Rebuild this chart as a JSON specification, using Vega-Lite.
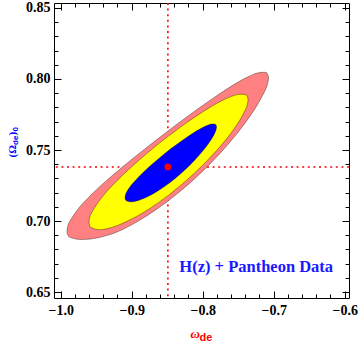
{
  "$schema": "https://vega.github.io/schema/vega-lite/v6.json",
  "width": 295,
  "height": 295,
  "autosize": {"type": "none"},
  "padding": {"left": 54, "top": 3, "right": 11, "bottom": 44},
  "background": "white",
  "config": {
    "view": {"stroke": "black", "strokeWidth": 1},
    "axis": {
      "grid": false,
      "domain": false,
      "tickColor": "black",
      "tickWidth": 1,
      "labelFont": "Liberation Serif",
      "labelFontSize": 14,
      "labelFontWeight": "bold",
      "labelColor": "black",
      "labelFlush": false,
      "labelOverlap": false,
      "titleFont": "Liberation Serif",
      "titleFontWeight": "bold"
    }
  },
  "datasets": {
    "best": [{"w": -0.849, "om": 0.738}],
    "note": [{"label": "H(z) + Pantheon Data", "x": -0.7246, "y": 0.6643}],
    "pink": [
      {"i": 0, "x": -0.7073, "y": 0.8007}, {"i": 1, "x": -0.7085, "y": 0.8033}, {"i": 2, "x": -0.7121, "y": 0.8047},
      {"i": 3, "x": -0.7263, "y": 0.8037}, {"i": 4, "x": -0.7488, "y": 0.7982}, {"i": 5, "x": -0.7782, "y": 0.7889},
      {"i": 6, "x": -0.8124, "y": 0.7769}, {"i": 7, "x": -0.8492, "y": 0.7632}, {"i": 8, "x": -0.8859, "y": 0.7490},
      {"i": 9, "x": -0.9201, "y": 0.7351}, {"i": 10, "x": -0.9495, "y": 0.7221}, {"i": 11, "x": -0.9721, "y": 0.7105},
      {"i": 12, "x": -0.9863, "y": 0.7006}, {"i": 13, "x": -0.9899, "y": 0.6965}, {"i": 14, "x": -0.9911, "y": 0.6930},
      {"i": 15, "x": -0.9899, "y": 0.6901}, {"i": 16, "x": -0.9863, "y": 0.6884}, {"i": 17, "x": -0.9721, "y": 0.6870},
      {"i": 18, "x": -0.9495, "y": 0.6880}, {"i": 19, "x": -0.9201, "y": 0.6924}, {"i": 20, "x": -0.8859, "y": 0.7014},
      {"i": 21, "x": -0.8492, "y": 0.7140}, {"i": 22, "x": -0.8124, "y": 0.7293}, {"i": 23, "x": -0.7782, "y": 0.7462},
      {"i": 24, "x": -0.7488, "y": 0.7634}, {"i": 25, "x": -0.7263, "y": 0.7791}, {"i": 26, "x": -0.7121, "y": 0.7919},
      {"i": 27, "x": -0.7085, "y": 0.7969}
    ],
    "yellow": [
      {"i": 0, "x": -0.7361, "y": 0.7852}, {"i": 1, "x": -0.7371, "y": 0.7875}, {"i": 2, "x": -0.7400, "y": 0.7889},
      {"i": 3, "x": -0.7511, "y": 0.7890}, {"i": 4, "x": -0.7689, "y": 0.7857}, {"i": 5, "x": -0.7921, "y": 0.7793},
      {"i": 6, "x": -0.8191, "y": 0.7704}, {"i": 7, "x": -0.8481, "y": 0.7598}, {"i": 8, "x": -0.8771, "y": 0.7482},
      {"i": 9, "x": -0.9041, "y": 0.7363}, {"i": 10, "x": -0.9273, "y": 0.7250}, {"i": 11, "x": -0.9451, "y": 0.7146},
      {"i": 12, "x": -0.9563, "y": 0.7059}, {"i": 13, "x": -0.9591, "y": 0.7023}, {"i": 14, "x": -0.9601, "y": 0.6993},
      {"i": 15, "x": -0.9591, "y": 0.6969}, {"i": 16, "x": -0.9563, "y": 0.6952}, {"i": 17, "x": -0.9451, "y": 0.6939},
      {"i": 18, "x": -0.9273, "y": 0.6956}, {"i": 19, "x": -0.9041, "y": 0.7004}, {"i": 20, "x": -0.8771, "y": 0.7080},
      {"i": 21, "x": -0.8481, "y": 0.7182}, {"i": 22, "x": -0.8191, "y": 0.7303}, {"i": 23, "x": -0.7921, "y": 0.7433},
      {"i": 24, "x": -0.7689, "y": 0.7563}, {"i": 25, "x": -0.7511, "y": 0.7683}, {"i": 26, "x": -0.7400, "y": 0.7781},
      {"i": 27, "x": -0.7371, "y": 0.7821}
    ],
    "blue": [
      {"i": 0, "x": -0.7805, "y": 0.7662}, {"i": 1, "x": -0.7811, "y": 0.7675}, {"i": 2, "x": -0.7827, "y": 0.7682},
      {"i": 3, "x": -0.7891, "y": 0.7681}, {"i": 4, "x": -0.7994, "y": 0.7660}, {"i": 5, "x": -0.8127, "y": 0.7622},
      {"i": 6, "x": -0.8283, "y": 0.7569}, {"i": 7, "x": -0.8450, "y": 0.7508}, {"i": 8, "x": -0.8616, "y": 0.7441},
      {"i": 9, "x": -0.8772, "y": 0.7374}, {"i": 10, "x": -0.8905, "y": 0.7309}, {"i": 11, "x": -0.9008, "y": 0.7251},
      {"i": 12, "x": -0.9072, "y": 0.7203}, {"i": 13, "x": -0.9088, "y": 0.7182}, {"i": 14, "x": -0.9094, "y": 0.7166},
      {"i": 15, "x": -0.9088, "y": 0.7152}, {"i": 16, "x": -0.9072, "y": 0.7142}, {"i": 17, "x": -0.9008, "y": 0.7135},
      {"i": 18, "x": -0.8905, "y": 0.7145}, {"i": 19, "x": -0.8772, "y": 0.7172}, {"i": 20, "x": -0.8616, "y": 0.7217},
      {"i": 21, "x": -0.8450, "y": 0.7275}, {"i": 22, "x": -0.8283, "y": 0.7345}, {"i": 23, "x": -0.8127, "y": 0.7421},
      {"i": 24, "x": -0.7994, "y": 0.7496}, {"i": 25, "x": -0.7891, "y": 0.7565}, {"i": 26, "x": -0.7827, "y": 0.7622},
      {"i": 27, "x": -0.7811, "y": 0.7644}
    ]
  },
  "layer": [
    {
      "data": {"name": "best"},
      "mark": {"type": "rule", "color": "#ff0000", "strokeWidth": 1.6, "strokeDash": [2, 3.6]},
      "encoding": {
        "x": {"field": "w", "type": "quantitative",
          "scale": {"domain": [-1.0094, -0.5939], "nice": false, "zero": false},
          "axis": {"orient": "top", "values": [-1.0, -0.9, -0.8, -0.7, -0.6], "tickSize": -7, "labels": false, "title": null}}
      }
    },
    {
      "data": {"name": "best"},
      "mark": {"type": "rule", "color": "#ff0000", "strokeWidth": 1.6, "strokeDash": [2, 3.6]},
      "encoding": {
        "y": {"field": "om", "type": "quantitative",
          "scale": {"domain": [0.6458, 0.8535], "nice": false, "zero": false},
          "axis": {"orient": "right", "values": [0.65, 0.7, 0.75, 0.8, 0.85], "tickSize": -7, "labels": false,
            "title": ")", "titleColor": "#0000ff", "titleFontSize": 11, "titleX": -334, "titleY": 132,
            "titleAlign": "left", "titleBaseline": "alphabetic", "titleAngle": -90}}
      }
    },
    {
      "data": {"name": "pink"},
      "mark": {"type": "line", "interpolate": "cardinal-closed", "fill": "#ff8080", "stroke": "#000000", "strokeOpacity": 0.35, "strokeWidth": 1},
      "encoding": {
        "x": {"field": "x", "type": "quantitative",
          "scale": {"domain": [-1.0094, -0.5939], "nice": false, "zero": false},
          "axis": {"orient": "bottom", "values": [-1.0, -0.9, -0.8, -0.7, -0.6], "format": ".1f", "tickSize": -7, "labelPadding": 12,
            "title": "ω", "titleColor": "#ff0000", "titleFontSize": 13, "titleFontStyle": "italic", "titleX": 136, "titleY": 39.5,
            "titleAlign": "left", "titleBaseline": "alphabetic", "titleAngle": 0}},
        "y": {"field": "y", "type": "quantitative",
          "scale": {"domain": [0.6458, 0.8535], "nice": false, "zero": false},
          "axis": {"orient": "left", "values": [0.65, 0.7, 0.75, 0.8, 0.85], "format": ".2f", "tickSize": -7, "labelPadding": 11,
            "title": "(Ω", "titleColor": "#0000ff", "titleFontSize": 11, "titleX": -39, "titleY": 154,
            "titleAlign": "left", "titleBaseline": "alphabetic", "titleAngle": -90}},
        "order": {"field": "i", "type": "quantitative"}
      }
    },
    {
      "data": {"name": "yellow"},
      "mark": {"type": "line", "interpolate": "cardinal-closed", "fill": "#ffff00", "stroke": "#000000", "strokeOpacity": 0.35, "strokeWidth": 1},
      "encoding": {
        "x": {"field": "x", "type": "quantitative",
          "scale": {"domain": [-1.0094, -0.5939], "nice": false, "zero": false},
          "axis": {"orient": "bottom", "values": [-0.98, -0.96, -0.94, -0.92, -0.88, -0.86, -0.84, -0.82, -0.78, -0.76, -0.74, -0.72, -0.68, -0.66, -0.64, -0.62],
            "tickSize": -4, "labels": false,
            "title": "de", "titleFont": "Liberation Sans", "titleColor": "#ff0000", "titleFontSize": 11, "titleX": 145, "titleY": 42,
            "titleAlign": "left", "titleBaseline": "alphabetic", "titleAngle": 0}},
        "y": {"field": "y", "type": "quantitative",
          "scale": {"domain": [0.6458, 0.8535], "nice": false, "zero": false},
          "axis": {"orient": "left", "values": [0.66, 0.67, 0.68, 0.69, 0.71, 0.72, 0.73, 0.74, 0.76, 0.77, 0.78, 0.79, 0.81, 0.82, 0.83, 0.84],
            "tickSize": -4, "labels": false,
            "title": "de", "titleFont": "Liberation Sans", "titleColor": "#0000ff", "titleFontSize": 8, "titleX": -36.5, "titleY": 141.5,
            "titleAlign": "left", "titleBaseline": "alphabetic", "titleAngle": -90}},
        "order": {"field": "i", "type": "quantitative"}
      }
    },
    {
      "data": {"name": "blue"},
      "mark": {"type": "line", "interpolate": "cardinal-closed", "fill": "#0000ff", "stroke": "#000000", "strokeOpacity": 0.35, "strokeWidth": 1},
      "encoding": {
        "x": {"field": "x", "type": "quantitative",
          "scale": {"domain": [-1.0094, -0.5939], "nice": false, "zero": false},
          "axis": {"orient": "top", "values": [-0.98, -0.96, -0.94, -0.92, -0.88, -0.86, -0.84, -0.82, -0.78, -0.76, -0.74, -0.72, -0.68, -0.66, -0.64, -0.62],
            "tickSize": -4, "labels": false, "title": null}},
        "y": {"field": "y", "type": "quantitative",
          "scale": {"domain": [0.6458, 0.8535], "nice": false, "zero": false},
          "axis": {"orient": "right", "values": [0.66, 0.67, 0.68, 0.69, 0.71, 0.72, 0.73, 0.74, 0.76, 0.77, 0.78, 0.79, 0.81, 0.82, 0.83, 0.84],
            "tickSize": -4, "labels": false,
            "title": "0", "titleFont": "Liberation Sans", "titleColor": "#0000ff", "titleFontSize": 8, "titleX": -331.5, "titleY": 128,
            "titleAlign": "left", "titleBaseline": "alphabetic", "titleAngle": -90}},
        "order": {"field": "i", "type": "quantitative"}
      }
    },
    {
      "data": {"name": "best"},
      "mark": {"type": "circle", "color": "#ff0000", "opacity": 1, "size": 48},
      "encoding": {
        "x": {"field": "w", "type": "quantitative", "scale": {"domain": [-1.0094, -0.5939], "nice": false, "zero": false}, "axis": null},
        "y": {"field": "om", "type": "quantitative", "scale": {"domain": [0.6458, 0.8535], "nice": false, "zero": false}, "axis": null}
      }
    },
    {
      "data": {"name": "note"},
      "mark": {"type": "text", "font": "Liberation Serif", "fontWeight": "bold", "fontSize": 16.5, "color": "#1a1aff", "align": "center", "baseline": "alphabetic"},
      "encoding": {
        "x": {"field": "x", "type": "quantitative", "scale": {"domain": [-1.0094, -0.5939], "nice": false, "zero": false}, "axis": null},
        "y": {"field": "y", "type": "quantitative", "scale": {"domain": [0.6458, 0.8535], "nice": false, "zero": false}, "axis": null},
        "text": {"field": "label", "type": "nominal"}
      }
    }
  ],
  "resolve": {"axis": {"x": "independent", "y": "independent"}}
}
